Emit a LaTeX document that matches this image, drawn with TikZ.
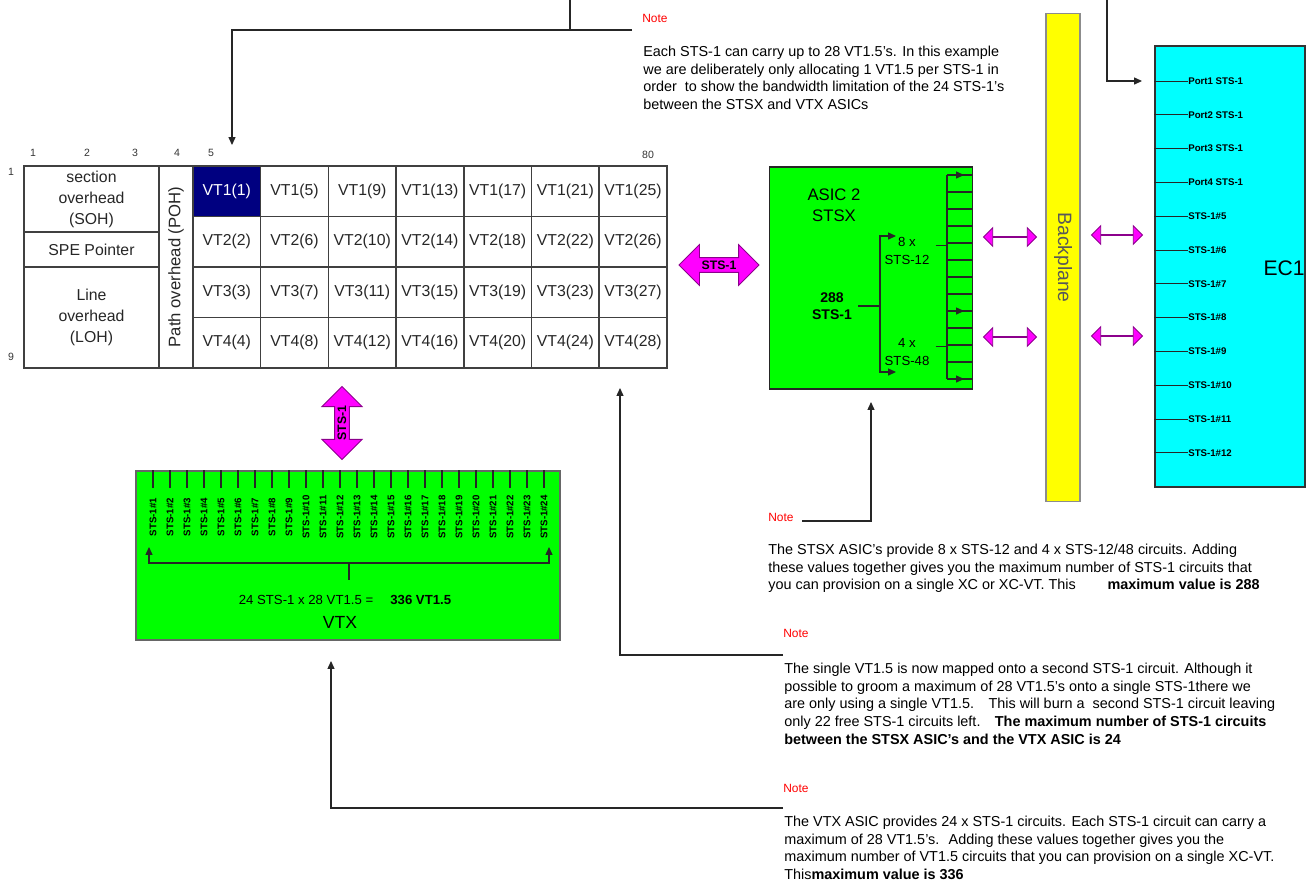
\documentclass[tikz,border=0pt]{standalone}
\usepackage{fontspec}
\setmainfont{Liberation Sans}
\usetikzlibrary{arrows.meta, shapes.arrows, positioning, calc}
\definecolor{vgrn} {RGB}{  0,255,  0}
\definecolor{ecyan}{RGB}{  0,255,255}
\definecolor{byel} {RGB}{255,255,  0}
\definecolor{mgnt} {RGB}{255,  0,255}
\definecolor{dmgnt}{RGB}{140,  0,140}
\definecolor{nred} {RGB}{255,  0,  0}
\definecolor{vnavy}{RGB}{  0,  0,128}
\tikzset{
  % table cell
  CL/.style={rectangle,draw=black!75,line width=0.8pt,inner sep=0pt,
             minimum width=1.354cm,minimum height=1.01cm,
             font=\fontsize{9}{11}\selectfont,text=black!85},
  % highlighted cell
  hl11/.style={fill=vnavy,text=white},
  % overhead block
  OH/.style={rectangle,draw=black!75,line width=0.8pt,inner sep=0pt,
             minimum width=2.7cm,align=center,
             font=\fontsize{9}{12}\selectfont,text=black!85},
  % small numbers
  Num/.style={font=\fontsize{6}{7}\selectfont,text=black!80,inner sep=0pt},
  % chip boxes
  GB/.style={rectangle,draw=black!85,fill=vgrn,line width=0.8pt,inner sep=0pt},
  % magenta double arrows
  MA/.style={double arrow,draw=dmgnt,fill=mgnt,line width=0.5pt,
             inner sep=0pt,double arrow head extend=#1},
  MA/.default=5pt,
  % note header and note body
  NL/.style={font=\fontsize{6.8}{7}\selectfont,text=nred,anchor=west,inner sep=0pt},
  NT/.style={font=\fontsize{8.2}{10}\selectfont,align=left,anchor=north west,
             inner sep=0pt},
  % bus labels
  VL/.style={font=\fontsize{5.5}{6}\selectfont\bfseries,inner sep=0pt},
  Ln/.style={line width=0.6pt,color=black!85},
  Arr/.style={-{Triangle[length=4.5pt,width=4pt]},line width=0.6pt,color=black!85},
  BArr/.style={{Triangle[length=4.5pt,width=4pt]}-{Triangle[length=4.5pt,width=4pt]},
               line width=0.6pt,color=black!85},
}
\begin{document}
\begin{tikzpicture}[x=0.02cm,y=-0.02cm]
\useasboundingbox (0,0) rectangle (1316,887);

% ---- frame numbers
\foreach \n/\xx in {1/33,2/87,3/135,4/177,5/211}
  \node[Num] (col\n) at (\xx,153) {\n};
\node[Num] (col80) at (648,155) {80};
\node[Num] (row1) at (11,172) {1};
\node[Num] (row9) at (11,357) {9};

% ---- overhead columns
\node[OH,minimum height=1.32cm] (soh) at (91.5,199) {section\\overhead\\(SOH)};
\node[OH,minimum height=0.7cm] (spe) at (91.5,249.5) {SPE Pointer};
\node[OH,minimum height=2.02cm] (loh) at (91.5,317.5) {Line\\overhead\\(LOH)};
\node[OH,rotate=90,minimum width=4.04cm,minimum height=0.68cm,
      font=\fontsize{9.5}{12}\selectfont] (poh)
      at (176,267) {Path overhead (POH)};

% ---- VT grid
\foreach \c in {1,...,7}
  \foreach \r in {1,...,4}{
    \pgfmathtruncatemacro{\n}{4*(\c-1)+\r}
    \node[CL,hl\c\r/.try] (vt\c\r) at ({193+67.7*(\c-0.5)},{166+50.5*(\r-0.5)})
          {VT\r(\n)};
  }

% ---- STSX asic
\node[GB,minimum width=4.06cm,minimum height=4.44cm] (stsx) at (871,278) {};
\node[font=\fontsize{9.5}{12}\selectfont,align=center] (stsxl) at (834,205)
      {ASIC 2\\STSX};
\node[font=\fontsize{8}{9.5}\selectfont\bfseries,align=center] (stsin) at (832,306)
      {288\\STS-1};
\node[font=\fontsize{7.5}{10.5}\selectfont,align=center] (x8) at (907,251)
      {8 x\\STS-12};
\node[font=\fontsize{7.5}{10.5}\selectfont,align=center] (x4) at (907,352)
      {4 x\\STS-48};
\coordinate (lbtop) at (880,236);
\coordinate (lbbot) at (880,372);
\coordinate (rbtop) at (947,175);
\coordinate (rbbot) at (947,379);
\draw[Ln] (stsin.east) -- (stsin.east -| lbtop);
\draw[Arr] (lbbot) -- (lbtop) -- ++(16,0);
\draw[Arr] (lbtop) -- (lbbot) -- ++(16,0);
\draw[Ln] (rbtop) -- (rbbot);
\draw[Ln] ([yshift=3pt]x8.east) -- ([yshift=3pt]x8.east -| rbtop);
\draw[Ln] ([yshift=3pt]x4.east) -- ([yshift=3pt]x4.east -| rbtop);
\foreach \k in {0,...,12}{
  \path (rbtop) ++(0,{17*\k}) coordinate (rt\k);
  \draw[Ln] (rt\k) -- (rt\k -| stsx.east);
}
\foreach \k in {0,8,12}
  \draw[Arr] (rt\k) -- ++(17,0);

% ---- backplane and EC1
\node[rectangle,draw=black!45,fill=byel,line width=0.6pt,rotate=-90,
      minimum width=9.78cm,minimum height=0.68cm,
      font=\fontsize{11}{12}\selectfont,text=black!65] (bp) at (1063,257.5) {Backplane};
\node[rectangle,draw=black!80,fill=ecyan,line width=0.8pt,
      minimum width=3cm,minimum height=8.82cm] (ec1) at (1230,266.5) {};
\node[font=\fontsize{12}{14}\selectfont,inner sep=0pt] (ec1l) at (1284,268) {EC1};
\foreach \lbl [count=\k from 0] in {Port1 STS-1,Port2 STS-1,Port3 STS-1,
    Port4 STS-1,STS-1\#5,STS-1\#6,STS-1\#7,STS-1\#8,STS-1\#9,STS-1\#10,
    STS-1\#11,STS-1\#12}{
  \node[VL,anchor=west] (p\k) at (1188,{81+33.8*\k}) {\lbl};
  \draw[Ln,line width=0.5pt] (ec1.west |- p\k.west) -- (p\k.west);
}

% ---- magenta links
\node[MA=7.4pt,minimum height=1.6cm,inner ysep=1.5pt,
      font=\fontsize{7}{8}\selectfont\bfseries] (lk1) at (719,265) {STS-1};
\node[MA=7.2pt,minimum height=1.46cm,inner ysep=1.5pt,rotate=90,
      font=\fontsize{7}{8}\selectfont\bfseries] (lk2) at (342,423) {STS-1};
\node[MA,minimum height=1.06cm,minimum width=3pt] (lk3) at (1010,237) {};
\node[MA,minimum height=1.06cm,minimum width=3pt] (lk4) at (1010,337) {};
\node[MA,minimum height=1.02cm,minimum width=3pt] (lk5) at (1117,235) {};
\node[MA,minimum height=1.02cm,minimum width=3pt] (lk6) at (1117,336) {};

% ---- VTX asic
\node[GB,draw=black!60,minimum width=8.48cm,minimum height=3.38cm] (vtx)
      at (348,555.5) {};
\foreach \i in {1,...,24}{
  \node[VL,rotate=90] (s\i) at ({153+17*(\i-1)},517) {STS-1\#\i};
  \draw[Ln] (s\i |- vtx.north) -- ++(0,18);
}
\coordinate (vbl) at (149,547);
\coordinate (vbr) at (549,547);
\coordinate (vbc) at (349,563);
\draw[BArr] (vbl) -- ++(0,16) -| (vbr);
\draw[Ln] (vbc) -- ++(0,17);
\node[font=\fontsize{7.5}{9}\selectfont] (sum) at (345,600)
      {24 STS-1 x 28 VT1.5 =\hspace{1.3em}\textbf{336 VT1.5}};
\node[font=\fontsize{10}{12}\selectfont] (vtxl) at (340,622) {VTX};

% ---- notes
\node[NL] (n1) at (642,18) {Note};
\node[NT] (n1t) at (643,46)
  {Each STS-1 can carry up to 28 VT1.5's. In this example\\
   we are deliberately only allocating 1 VT1.5 per STS-1 in\\
   order~ to show the bandwidth limitation of the 24 STS-1's\\
   between the STSX and VTX ASICs};
\node[NL] (n2) at (768,517) {Note};
\node[NT] (n2t) at (768,544)
  {The STSX ASIC's provide 8 x STS-12 and 4 x STS-12/48 circuits. Adding\\
   these values together gives you the maximum number of STS-1 circuits that\\
   you can provision on a single XC or XC-VT. This\hspace{2.2em}\textbf{maximum value is 288}};
\node[NL] (n3) at (783,633) {Note};
\node[NT] (n3t) at (784,663)
  {The single VT1.5 is now mapped onto a second STS-1 circuit. Although it\\
   possible to groom a maximum of 28 VT1.5's onto a single STS-1there we\\
   are only using a single VT1.5.\quad This will burn a~ second STS-1 circuit leaving\\
   only 22 free STS-1 circuits left.\quad \textbf{The maximum number of STS-1 circuits}\\
   \textbf{between the STSX ASIC's and the VTX ASIC is 24}};
\node[NL] (n4) at (783,788) {Note};
\node[NT] (n4t) at (784,816)
  {The VTX ASIC provides 24 x STS-1 circuits. Each STS-1 circuit can carry a\\
   maximum of 28 VT1.5's.~ Adding these values together gives you the\\
   maximum number of VT1.5 circuits that you can provision on a single XC-VT.\\
   This\textbf{maximum value is 336}};

% ---- note pointers
\coordinate (topa) at (570,0);
\coordinate (topaj) at (570,30);
\coordinate (n1j) at (632,30);
\coordinate (c5tip) at (232,145);
\coordinate (topb) at (1107,0);
\coordinate (ptin) at (1142,81);
\draw[Ln] (topa) -- (topaj);
\draw[Arr] (n1j) -| (c5tip);
\draw[Arr] (topb) |- (ptin);
\coordinate (n2a) at (802,521);
\coordinate (n2tip) at (871,402);
\draw[Arr] (n2a) -| (n2tip);
\coordinate (n3a) at (783,655);
\coordinate (n3tip) at (620,388);
\draw[Arr] (n3a) -| (n3tip);
\coordinate (n4a) at (783,808);
\coordinate (n4tip) at (331,661);
\draw[Arr] (n4a) -| (n4tip);
\end{tikzpicture}
\end{document}
